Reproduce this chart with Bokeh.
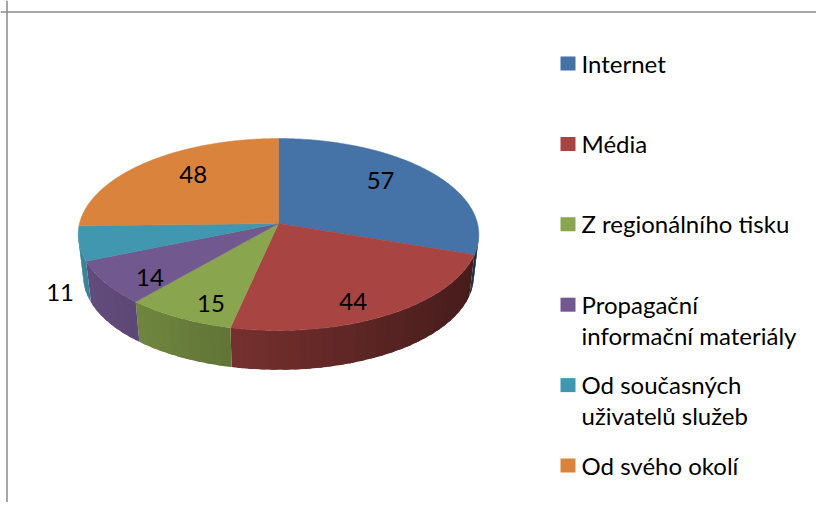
import math
import numpy as np
from bokeh.plotting import figure
from bokeh.models import Range1d, Span
from bokeh.core.properties import value
from bokeh.embed import file_html
from bokeh.resources import INLINE

# ---- data ----
categories = ["Internet", "Média", "Z regionálního tisku",
              "Propagační\ninformační materiály",
              "Od současných\nuživatelů služeb", "Od svého okolí"]
values = [57, 44, 15, 14, 11, 48]
colors = ["#4572A7", "#A84542", "#89A54E", "#71588F", "#4197AF", "#D9833D"]

# ---- geometry / style ----
CX, CY = 278.0, 223.0          # projected pie centre (px)
A, B, E = 199.0, 94.7, 0.1146  # perspective ellipse parameters
DEPTH = 42.0
BOT_SCALE = 0.975
FONT = "Lato"
FSIZE = "24px"

W, H = 816, 502
p = figure(width=W, height=H, x_range=Range1d(0, W), y_range=Range1d(H, 0),
           output_backend="svg", toolbar_location=None, min_border=0,
           x_axis_type=None, y_axis_type=None)
p.grid.visible = False
p.outline_line_color = None
p.background_fill_color = "white"
p.border_fill_color = "white"


def proj(r, deg):
    t = math.radians(deg)
    u, v = r * math.sin(t), r * math.cos(t)
    w = 1 + E * v
    return CX + A * u / w, CY - B * v / w


def bottom(x, y):
    return CX + BOT_SCALE * (x - CX), CY + DEPTH + BOT_SCALE * (y - CY)


def shade(hexc, f):
    h = hexc.lstrip("#")
    r, g, b = (int(h[i:i + 2], 16) for i in (0, 2, 4))
    f = max(0.0, f)
    return "#%02x%02x%02x" % (min(255, int(r * f)), min(255, int(g * f)), min(255, int(b * f)))


def side_factor(x):
    return min(0.93, max(0.42, 0.88 - 0.00116 * (x - 80)))


total = float(sum(values))
bounds = np.concatenate([[0.0], np.cumsum(values) / total * 360.0])

# ---- side walls (overlapping shaded strips, no seams) ----
th_r = 90 + math.degrees(math.asin(E))
th_l = 270 - math.degrees(math.asin(E))
sx, sy, sc = [], [], []
STEP, OVER = 3.0, 1.5
for i, c in enumerate(colors):
    a0, a1 = max(bounds[i], th_r), min(bounds[i + 1], th_l)
    if a1 <= a0:
        continue
    n = max(2, int(math.ceil((a1 - a0) / STEP)) + 1)
    angs = np.linspace(a0, a1, n)
    for k in range(n - 1):
        s0, s1 = angs[k], min(a1, angs[k + 1] + OVER)
        arc = np.linspace(s0, s1, 4)
        tops = [proj(1, a) for a in arc]
        bots = [bottom(*q) for q in tops]
        sx.append([q[0] for q in tops] + [q[0] for q in bots[::-1]])
        sy.append([q[1] for q in tops] + [q[1] for q in bots[::-1]])
        xm = proj(1, (angs[k] + angs[k + 1]) / 2)[0]
        sc.append(shade(c, side_factor(xm)))
p.patches(sx, sy, fill_color=sc, line_color=None)

# ---- top faces ----
tx, ty = [], []
for i in range(len(values)):
    n = max(3, int((bounds[i + 1] - bounds[i]) / 0.5) + 1)
    angs = np.linspace(bounds[i], bounds[i + 1], n)
    pts = [proj(1, a) for a in angs]
    tx.append([CX] + [q[0] for q in pts])
    ty.append([CY] + [q[1] for q in pts])
p.patches(tx, ty, fill_color=colors, line_color=colors, line_width=0.5)

# ---- data labels ----
lx, ly, lt = [], [], []
for i, v in enumerate(values):
    mid = (bounds[i] + bounds[i + 1]) / 2
    if v / total < 0.065:
        x, y = proj(1.12, mid)
        x, y = bottom(x, y)
        y += 5
    else:
        r = 0.765 - 0.075 * math.cos(math.radians(mid))
        mid2 = mid - 6.0 * math.sin(math.radians(2 * mid))
        x, y = proj(r, mid2)
    lx.append(x); ly.append(y); lt.append(str(v))
p.text(lx, ly, text=lt, text_align="center", text_baseline="middle",
       text_font=value(FONT), text_font_size=FSIZE, text_color="black")

# ---- legend ----
LEG_Y0, LEG_STEP, LINE_H = 63.0, 80.4, 31.0
SW_X, TXT_X = 567.5, 581.0
gx, gy, gt = [], [], []
for i, lab in enumerate(categories):
    yc = LEG_Y0 + i * LEG_STEP
    for j, line in enumerate(lab.split("\n")):
        gx.append(TXT_X); gy.append(yc - 0.5 + j * LINE_H); gt.append(line)
p.rect(x=[SW_X] * len(categories), y=[LEG_Y0 + i * LEG_STEP for i in range(len(categories))],
       width=15, height=14, fill_color=colors, line_color=None)
p.text(gx, gy, text=gt, text_align="left", text_baseline="middle",
       text_font=value(FONT), text_font_size=FSIZE, text_color="black")

# ---- chart border (top and left visible) ----
p.add_layout(Span(location=11.5, dimension="width", line_color="#8a8a8a", line_width=1.5))
p.add_layout(Span(location=6.5, dimension="height", line_color="#8a8a8a", line_width=1.5))

open("out.html", "w").write(file_html(p, INLINE))
